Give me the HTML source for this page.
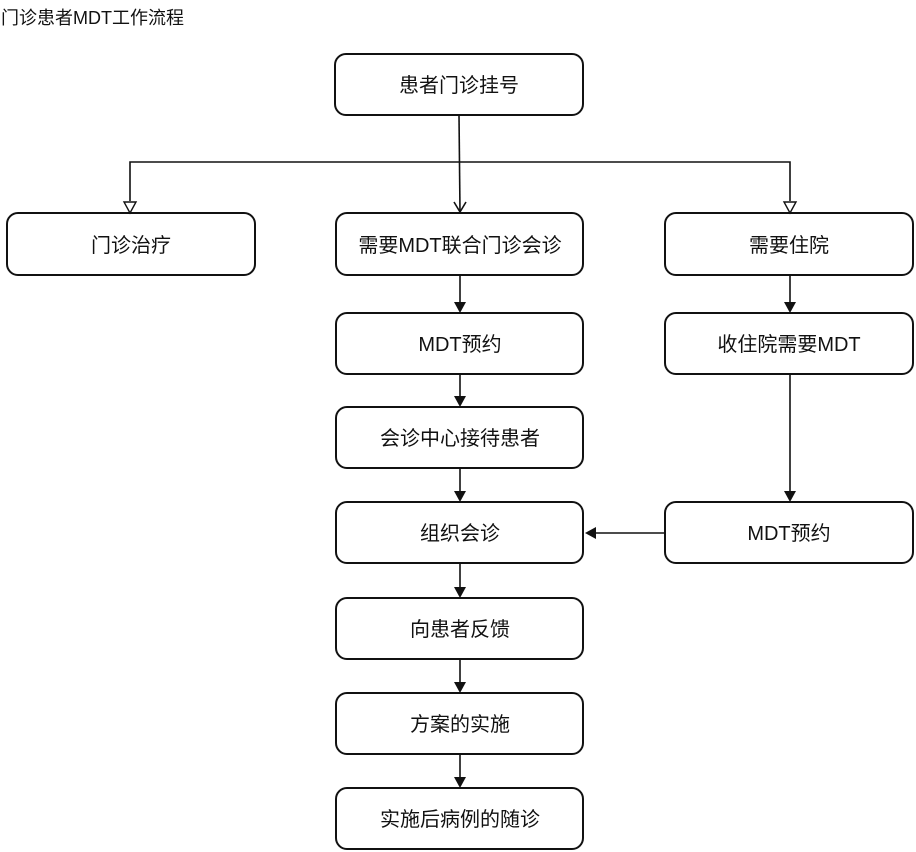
<!DOCTYPE html>
<html><head><meta charset="utf-8"><style>
html,body{margin:0;padding:0;background:#fff;}
svg{display:block;}
text{font-family:"Liberation Sans","Noto Sans CJK SC",sans-serif;font-size:20px;fill:#111;}
</style></head><body>
<svg width="916" height="852" viewBox="0 0 916 852" xmlns="http://www.w3.org/2000/svg">
<text x="1" y="24" style="font-size:18px">门诊患者MDT工作流程</text>
<g fill="none" stroke="#111" stroke-width="2">
<rect x="335" y="54" width="248" height="61" rx="11"/>
<rect x="7" y="213" width="248" height="62" rx="11"/>
<rect x="336" y="213" width="247" height="62" rx="11"/>
<rect x="665" y="213" width="248" height="62" rx="11"/>
<rect x="336" y="313" width="247" height="61" rx="11"/>
<rect x="665" y="313" width="248" height="61" rx="11"/>
<rect x="336" y="407" width="247" height="61" rx="11"/>
<rect x="336" y="502" width="247" height="61" rx="11"/>
<rect x="665" y="502" width="248" height="61" rx="11"/>
<rect x="336" y="598" width="247" height="61" rx="11"/>
<rect x="336" y="693" width="247" height="61" rx="11"/>
<rect x="336" y="788" width="247" height="61" rx="11"/>
</g>
<g fill="none" stroke="#111" stroke-width="1.6">
<path d="M459 115 L460 212"/>
<path d="M454 202 L460 212 L466 202"/>
<path d="M130 201 L130 162 L790 162 L790 201"/>
<path d="M460 275 L460 303"/>
<path d="M460 374 L460 397"/>
<path d="M460 468 L460 492"/>
<path d="M460 563 L460 588"/>
<path d="M460 659 L460 683"/>
<path d="M460 754 L460 778"/>
<path d="M790 275 L790 303"/>
<path d="M790 374 L790 492"/>
<path d="M665 533 L595 533"/>
</g>
<g fill="#fff" stroke="#111" stroke-width="1.4">
<path d="M124 202 L136 202 L130 213 Z"/>
<path d="M784 202 L796 202 L790 213 Z"/>
</g>
<g fill="#111">
<path d="M454 302 L466 302 L460 313 Z"/>
<path d="M454 396 L466 396 L460 407 Z"/>
<path d="M454 491 L466 491 L460 502 Z"/>
<path d="M454 587 L466 587 L460 598 Z"/>
<path d="M454 682 L466 682 L460 693 Z"/>
<path d="M454 777 L466 777 L460 788 Z"/>
<path d="M784 302 L796 302 L790 313 Z"/>
<path d="M784 491 L796 491 L790 502 Z"/>
<path d="M596 527 L596 539 L585 533 Z"/>
</g>
<g text-anchor="middle">
<text x="459" y="92">患者门诊挂号</text>
<text x="131" y="252">门诊治疗</text>
<text x="460" y="252">需要MDT联合门诊会诊</text>
<text x="789" y="252">需要住院</text>
<text x="460" y="351">MDT预约</text>
<text x="789" y="351">收住院需要MDT</text>
<text x="460" y="445">会诊中心接待患者</text>
<text x="460" y="540">组织会诊</text>
<text x="789" y="540">MDT预约</text>
<text x="460" y="636">向患者反馈</text>
<text x="460" y="731">方案的实施</text>
<text x="460" y="826">实施后病例的随诊</text>
</g>
</svg>
</body></html>
